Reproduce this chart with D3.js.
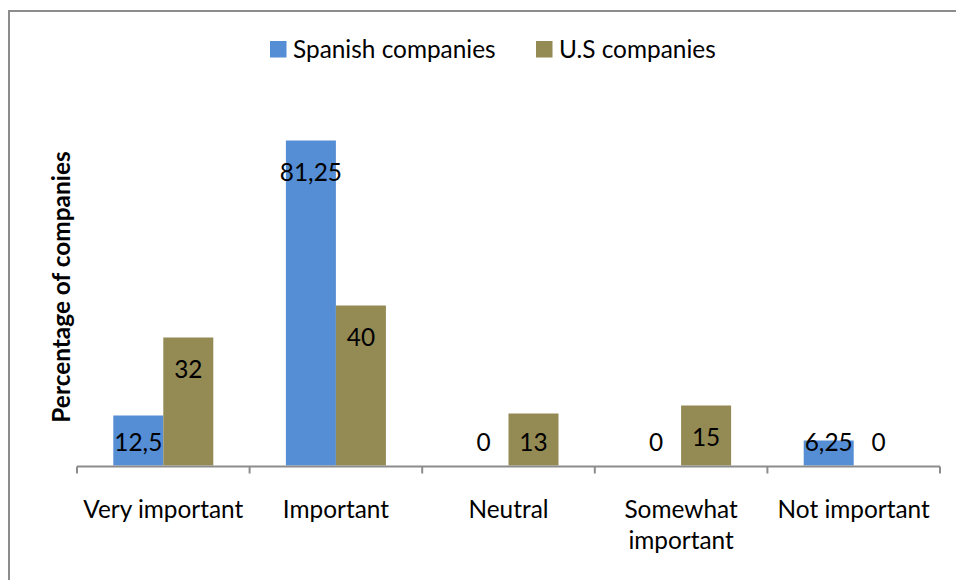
<!DOCTYPE html>
<html>
<head>
<meta charset="utf-8">
<script src="https://cdn.jsdelivr.net/npm/d3@7"></script>
<style>
  body { margin: 0; background: #fff; }
  svg { display: block; font-family: Lato, "Open Sans", sans-serif; }
</style>
</head>
<body>
<svg id="chart" width="956" height="580"></svg>
<script>
var categories = ["Very important", "Important", "Neutral", "Somewhat important", "Not important"];
var seriesNames = ["Spanish companies", "U.S companies"];
var spanish = [12.5, 81.25, 0, 0, 6.25];
var us = [32, 40, 13, 15, 0];
var colors = ["#558ED5", "#948A54"];

var svg = d3.select("#chart");
var FONT = 24.4;

// frame
svg.append("rect")
    .attr("x", 9).attr("y", 11)
    .attr("width", 960).attr("height", 600)
    .style("fill", "none")
    .style("stroke", "#8c8c8c")
    .style("stroke-width", 2);

var x = d3.scaleBand().domain(categories).range([77, 940]);
var xs = d3.scaleBand().domain(seriesNames).range([0, x.bandwidth()]).paddingOuter(0.726);
var y = d3.scaleLinear().domain([0, 90]).range([465.5, 105.5]);

var rows = [];
categories.forEach(function (c, i) {
  rows.push({cat: c, name: seriesNames[0], value: spanish[i], color: colors[0]});
  rows.push({cat: c, name: seriesNames[1], value: us[i], color: colors[1]});
});

// bars
svg.append("g").selectAll("rect")
    .data(rows)
    .enter().append("rect")
    .attr("x", function (d) { return x(d.cat) + xs(d.name); })
    .attr("y", function (d) { return y(d.value); })
    .attr("width", xs.bandwidth())
    .attr("height", function (d) { return y(0) - y(d.value); })
    .style("fill", function (d) { return d.color; });

// value labels
svg.append("g").selectAll("text")
    .data(rows)
    .enter().append("text")
    .attr("x", function (d) { return x(d.cat) + xs(d.name) + xs.bandwidth() / 2; })
    .attr("y", function (d) { return Math.min(y(d.value) + 31, y(0) - 24); })
    .attr("text-anchor", "middle")
    .attr("dominant-baseline", "central")
    .style("font-size", FONT + "px")
    .style("fill", "#000")
    .text(function (d) { return String(d.value).replace(".", ","); });

// x axis
var axis = svg.append("g")
    .attr("transform", "translate(0," + (y(0) + 1) + ")")
    .call(d3.axisBottom(x).tickSize(0).tickFormat(""));
axis.select(".domain").remove();
axis.append("line")
    .attr("x1", 77).attr("x2", 940)
    .style("stroke", "#8c8c8c").style("stroke-width", 2);
axis.selectAll(".edge")
    .data(d3.range(categories.length + 1))
    .enter().append("line")
    .attr("class", "edge")
    .attr("x1", function (i) { return 77 + i * x.step(); })
    .attr("x2", function (i) { return 77 + i * x.step(); })
    .attr("y1", 0).attr("y2", 7)
    .style("stroke", "#8c8c8c").style("stroke-width", 2);

// category labels, wrapped to the band width
var catLabels = svg.append("g").selectAll("text")
    .data(categories)
    .enter().append("text")
    .attr("text-anchor", "middle")
    .style("font-size", FONT + "px")
    .style("fill", "#000")
    .each(function (c) {
      var t = d3.select(this);
      var cx = x(c) + x.bandwidth() / 2;
      var words = c.split(" "), line = [], lineNo = 0;
      var tspan = t.append("tspan").attr("x", cx).attr("y", 518);
      words.forEach(function (w) {
        line.push(w);
        tspan.text(line.join(" "));
        if (line.length > 1 && tspan.node().getComputedTextLength() > x.bandwidth() - 2) {
          line.pop();
          tspan.text(line.join(" "));
          line = [w];
          lineNo++;
          tspan = t.append("tspan").attr("x", cx).attr("y", 518 + lineNo * 31).text(w);
        }
      });
    });

// y axis title
svg.append("text")
    .attr("transform", "translate(70,287) rotate(-90)")
    .attr("text-anchor", "middle")
    .style("font-size", FONT + "px")
    .style("font-weight", "bold")
    .style("fill", "#000")
    .text("Percentage of companies");

// legend
var legendX = [270, 536];
var legend = svg.append("g").selectAll("g")
    .data(seriesNames)
    .enter().append("g")
    .attr("transform", function (d, i) { return "translate(" + legendX[i] + ",41)"; });
legend.append("rect")
    .attr("width", 16.5).attr("height", 16.5)
    .style("fill", function (d, i) { return colors[i]; });
legend.append("text")
    .attr("x", 23).attr("y", 17)
    .style("font-size", FONT + "px")
    .style("fill", "#000")
    .text(function (d) { return d; });
</script>
</body>
</html>
